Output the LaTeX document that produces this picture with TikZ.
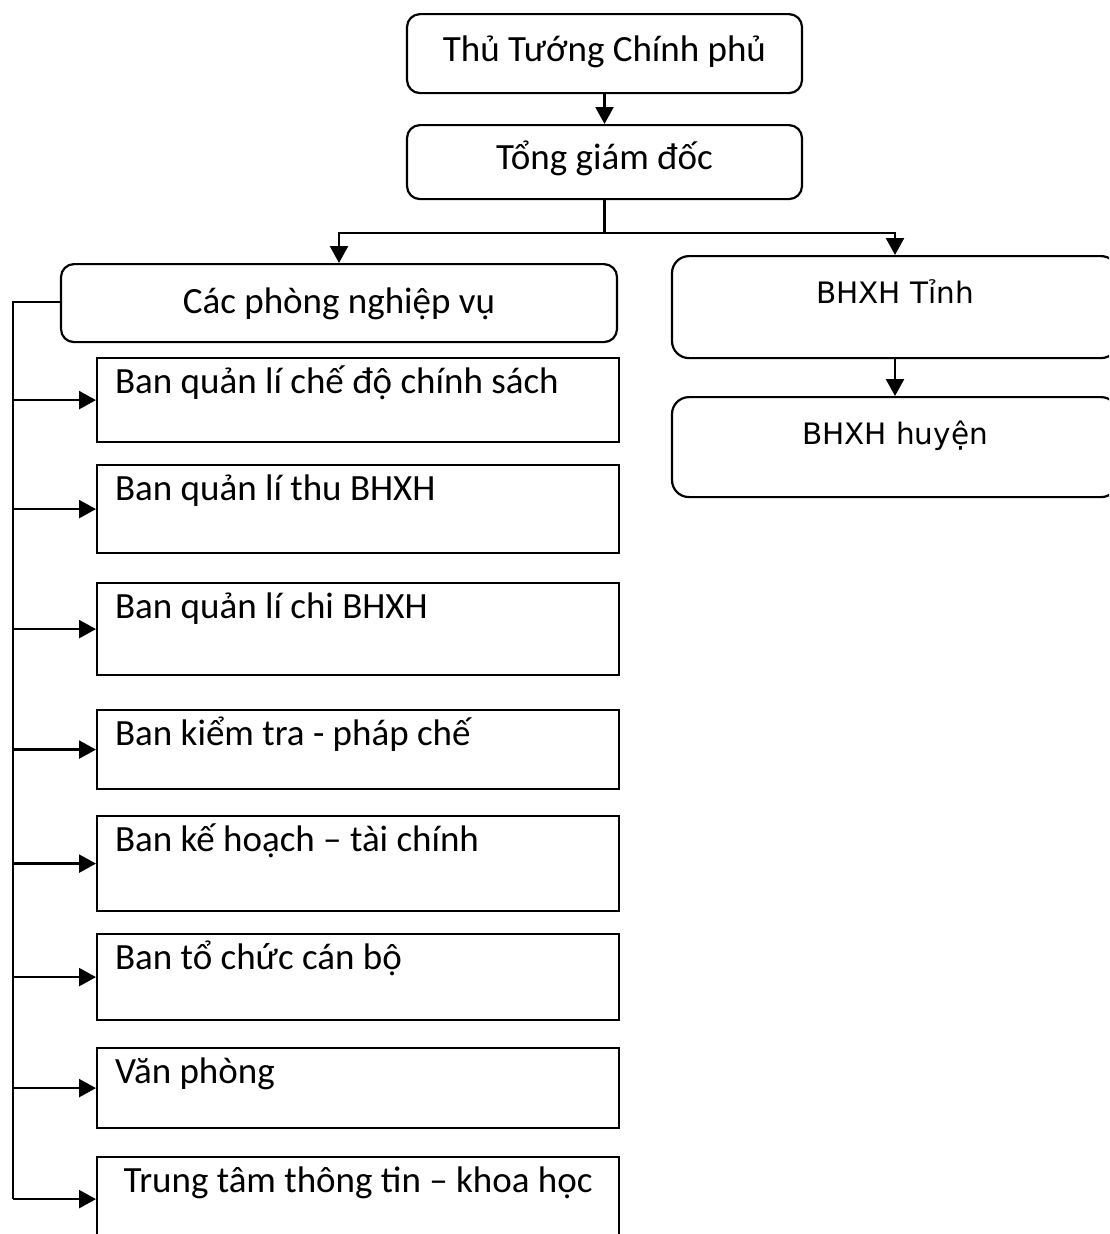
\documentclass[tikz,border=0pt]{standalone}
\usepackage{fontspec}
\setmainfont{Carlito}
\newfontfamily\vfont{DejaVu Sans}
\usetikzlibrary{arrows.meta}
\tikzset{
  line/.style={line width=2.4pt},
  arr/.style={line width=2.4pt,-{Triangle[length=17pt,width=18pt]}},
  rbox/.style={draw,line width=2.2pt,rounded corners=13pt,inner xsep=0pt,inner ysep=0pt,align=center,anchor=north,font=\fontsize{37}{40}\selectfont},
  vbox/.style={draw,line width=2.2pt,rounded corners=17pt,inner xsep=0pt,inner ysep=0pt,align=center,anchor=north,minimum width=446pt,font=\vfont\fontsize{29.5}{32}\selectfont},
  banbox/.style={draw,line width=2.2pt,inner xsep=18pt,inner ysep=0pt,text width=486pt,align=flush left,anchor=north west,text height=35pt,font=\fontsize{37}{40}\selectfont},
}
\begin{document}
\begin{tikzpicture}[x=1pt,y=-1pt]
\useasboundingbox (0,0) rectangle (1109,1234);
\clip (0,0) rectangle (1109,1234);
% top
\node[rbox,minimum width=395pt,text height=47pt,text depth=32pt] (ttg) at (604.5,13) {Thủ Tướng Chính phủ};
\node[rbox,minimum width=395pt,text height=44pt,text depth=30pt] (tgd) at (604.5,124) {Tổng giám đốc};
\node[rbox,minimum width=556pt,text height=49pt,text depth=29pt] (cpn) at (339,263) {Các phòng nghiệp vụ};
\node[vbox,text height=47pt,text depth=55pt] (tinh) at (895,255) {BHXH Tỉnh};
\node[vbox,text height=47pt,text depth=53pt] (huyen) at (895,396) {BHXH huyện};
% ban boxes
\node[banbox,text depth=49pt] (b1) at (96,357) {Ban quản lí chế độ chính sách};
\node[banbox,text depth=53pt] (b2) at (96,464) {Ban quản lí thu BHXH};
\node[banbox,text depth=57pt] (b3) at (96,582) {Ban quản lí chi BHXH};
\node[banbox,text depth=44pt] (b4) at (96,709) {Ban kiểm tra - pháp chế};
\node[banbox,text depth=60pt] (b5) at (96,815) {Ban kế hoạch – tài chính};
\node[banbox,text depth=51pt] (b6) at (96,933) {Ban tổ chức cán bộ};
\node[banbox,text depth=45pt] (b7) at (96,1047) {Văn phòng};
\node[banbox,text depth=49pt,align=flush center] (b8) at (96,1156) {Trung tâm thông tin – khoa học};
% connectors
\draw[arr] (ttg.south) -- (tgd.north);
\draw[arr] (tgd.south) -- ++(0,33) -| (cpn.north);
\draw[arr] (tgd.south) -- ++(0,33) -| (tinh.north);
\draw[arr] (tinh.south) -- (huyen.north);
\coordinate (bus) at (13,302);
\draw[line] (cpn.west |- bus) -- (bus) -- (bus |- b8.west);
\foreach \b in {b1,b2,b3,b4,b5,b6,b7,b8}{
  \draw[arr] (bus |- \b.west) -- (\b.west);
}
\end{tikzpicture}
\end{document}
